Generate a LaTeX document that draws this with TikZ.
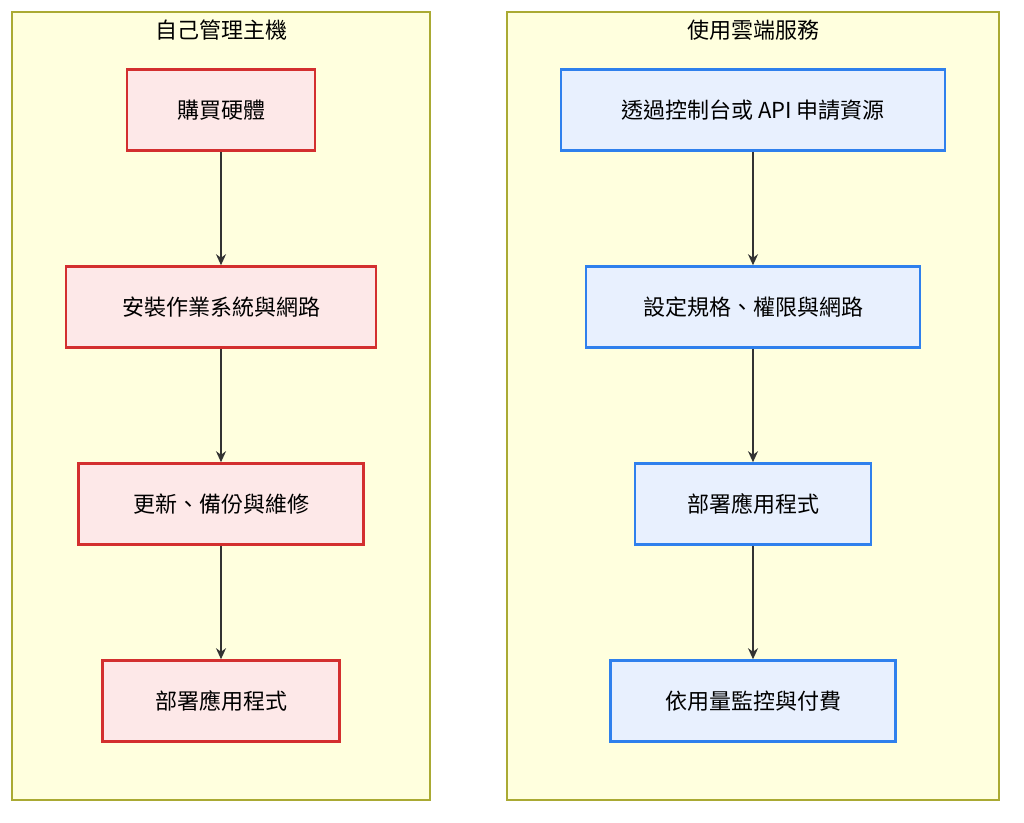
\documentclass[tikz,border=0pt]{standalone}
\usepackage{fontspec}
\setmainfont{Noto Sans CJK TC}
\usetikzlibrary{arrows.meta}
\definecolor{clfill}{HTML}{FFFFDE}
\definecolor{cldraw}{HTML}{AAAA33}
\definecolor{redfill}{HTML}{FDE8E8}
\definecolor{reddraw}{HTML}{D32F2F}
\definecolor{bluefill}{HTML}{E8F0FE}
\definecolor{bluedraw}{HTML}{2F80ED}
\definecolor{arrcol}{HTML}{333333}
\tikzset{
  cluster/.style={draw=cldraw,fill=clfill,line width=1.3pt},
  selfbox/.style={rectangle,draw=reddraw,fill=redfill,line width=2.6pt,minimum height=81pt,font=\fontsize{22}{26}\selectfont},
  cloudbox/.style={rectangle,draw=bluedraw,fill=bluefill,line width=2.6pt,minimum height=81pt,font=\fontsize{22}{26}\selectfont},
  flow/.style={draw=arrcol,line width=1.4pt,-{Stealth[length=11pt,width=10pt]}},
  title/.style={font=\fontsize{22}{26}\selectfont}
}
\begin{document}
\begin{tikzpicture}[x=1pt,y=-1pt]
  \useasboundingbox (0,0) rectangle (1024,822);
  \draw[cluster] (12,12) rectangle (430,800);
  \draw[cluster] (507,12) rectangle (999,800);
  \node[title] (tl) at (221,30) {自己管理主機};
  \node[title] (tr) at (753,30) {使用雲端服務};
  % left column
  \node[selfbox,minimum width=188pt] (a1) at (221,110) {購買硬體};
  \node[selfbox,minimum width=310pt] (a2) at (221,307) {安裝作業系統與網路};
  \node[selfbox,minimum width=285pt] (a3) at (221,504) {更新、備份與維修};
  \node[selfbox,minimum width=237pt] (a4) at (221,701) {部署應用程式};
  % right column
  \node[cloudbox,minimum width=384pt] (b1) at (753,110) {透過控制台或 API 申請資源};
  \node[cloudbox,minimum width=334pt] (b2) at (753,307) {設定規格、權限與網路};
  \node[cloudbox,minimum width=236pt] (b3) at (753,504) {部署應用程式};
  \node[cloudbox,minimum width=285pt] (b4) at (753,701) {依用量監控與付費};
  \draw[flow] (a1)--(a2); \draw[flow] (a2)--(a3); \draw[flow] (a3)--(a4);
  \draw[flow] (b1)--(b2); \draw[flow] (b2)--(b3); \draw[flow] (b3)--(b4);
\end{tikzpicture}
\end{document}
